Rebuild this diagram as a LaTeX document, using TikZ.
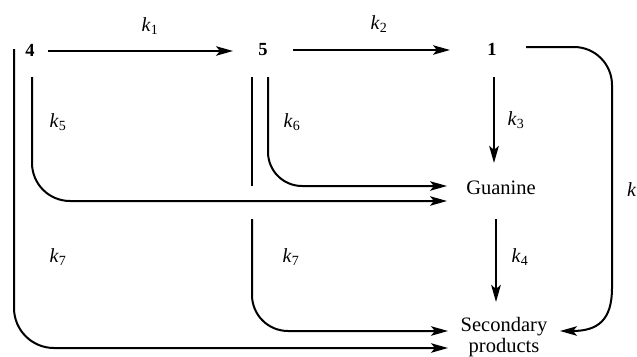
\documentclass[tikz,border=0pt]{standalone}
\usepackage{fontspec}
\setmainfont{Liberation Serif}
\usetikzlibrary{arrows.meta}
\newcommand\kk[1]{\textit{k}\textsubscript{#1}}
\begin{document}
\begin{tikzpicture}[x=1pt,y=-1pt,
  conn/.style={line width=2pt},
  arr/.style={conn,-{Stealth[length=17pt,width=9.5pt,inset=4pt]}},
  num/.style={font=\fontsize{18.5}{18.5}\selectfont\bfseries,inner sep=0pt},
  lbl/.style={font=\fontsize{20.5}{21.5}\selectfont,inner sep=0pt,align=center},
  klab/.style={font=\fontsize{20}{20}\selectfont,inner sep=0pt}]
\useasboundingbox (0,0) rectangle (637,356);
% species
\node[num] (n4) at (30,50) {4};
\node[num] (n5) at (263,50) {5};
\node[num] (n1) at (492,49) {1};
\node[lbl] (g) at (501,188) {Guanine};
\node[lbl] (s) at (504,337) {Secondary\\products};
% rate constants
\node[klab] (k1) at (150,26) {\kk{1}};
\node[klab] (k2) at (379,24) {\kk{2}};
\node[klab] (k3) at (516,120) {\kk{3}};
\node[klab] (k4) at (520,257) {\kk{4}};
\node[klab] (k5) at (58,122) {\kk{5}};
\node[klab] (k6) at (292,122) {\kk{6}};
\node[klab] (k7a) at (58,257) {\kk{7}};
\node[klab] (k7b) at (291,257) {\kk{7}};
\node[klab,anchor=west] (k8) at (627,190) {\textit{k}};
% connector end points
\coordinate (a4) at (48,51);
\coordinate (b5) at (233,51);
\coordinate (a5) at (293,50);
\coordinate (b1) at (450,50);
\coordinate (d1) at (494,77);
\coordinate (tg) at (494,163);
\coordinate (dg) at (496,219);
\coordinate (ts) at (496,302);
\coordinate (r1) at (526,47);
\coordinate (rs) at (560,331);
\coordinate (p4) at (32,77);
\coordinate (p5) at (268,77);
\coordinate (q5) at (252,77);
\coordinate (q5e) at (252,186);
\coordinate (q5b) at (252,219);
\coordinate (o4) at (14,49);
\coordinate (g1) at (447,186);
\coordinate (g2) at (447,201);
\coordinate (s1) at (448,331);
\coordinate (s2) at (448,348);
% connectors
\draw[arr] (a4) -- (b5);
\draw[arr] (a5) -- (b1);
\draw[arr,line width=2.6pt] (d1) -- (tg);
\draw[arr,line width=2.6pt] (dg) -- (ts);
\draw[arr] (r1) -- (574,47) arc[start angle=-90,end angle=0,radius=38]
   -- (612,288) .. controls (612,320) and (598,331) .. (rs);
\draw[arr,rounded corners=38pt] (p4) |- (g2);
\draw[arr,rounded corners=34pt] (p5) |- (g1);
\draw[conn] (q5) -- (q5e);
\draw[arr,rounded corners=36pt] (q5b) |- (s1);
\draw[arr,rounded corners=40pt] (o4) |- (s2);
\end{tikzpicture}
\end{document}
